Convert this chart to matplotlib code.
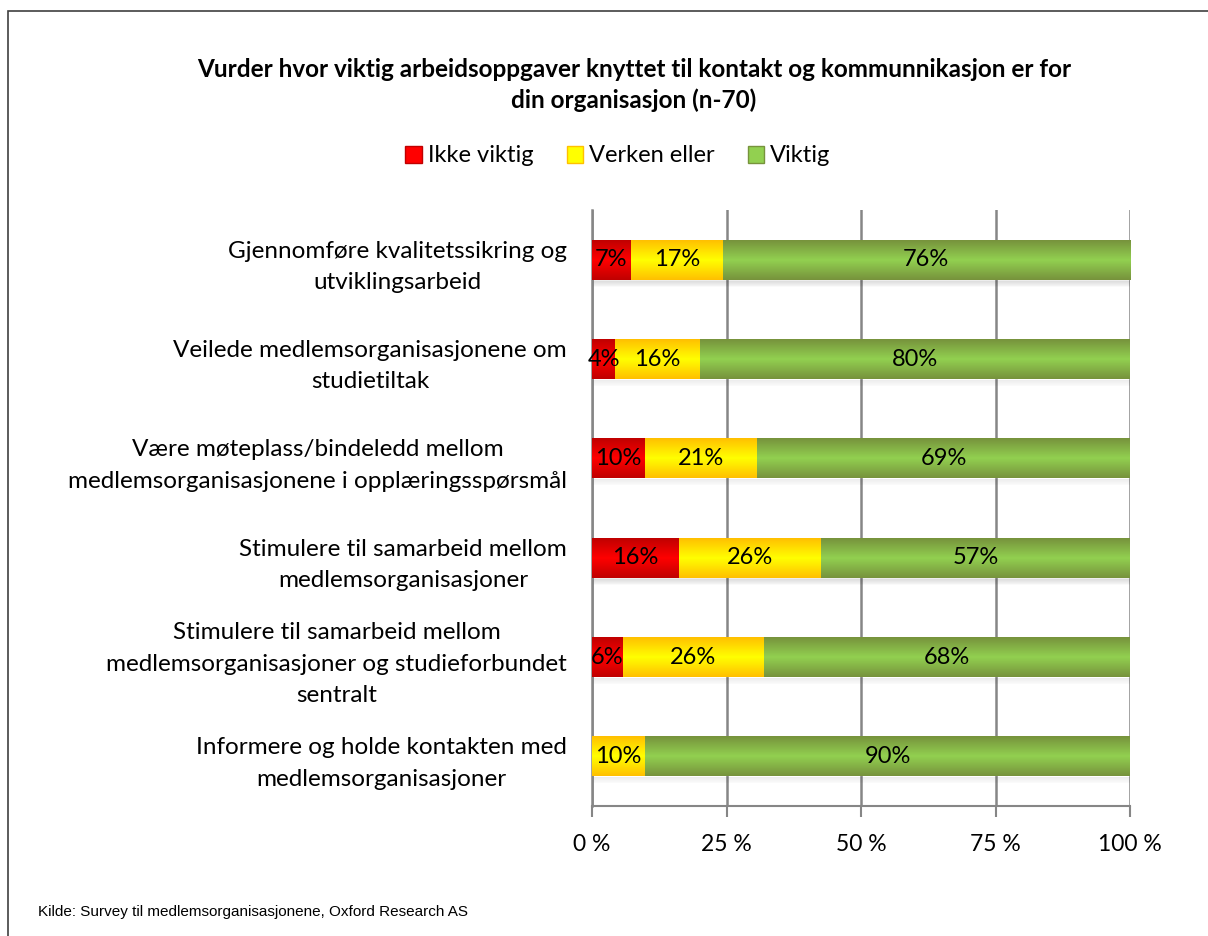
import numpy as np
import matplotlib.pyplot as plt
from matplotlib.colors import LinearSegmentedColormap
from matplotlib.patches import Rectangle

categories = [
    "Gjennomføre kvalitetssikring og\nutviklingsarbeid",
    "Veilede medlemsorganisasjonene om\nstudietiltak",
    "Være møteplass/bindeledd mellom\nmedlemsorganisasjonene i opplæringsspørsmål",
    "Stimulere til samarbeid mellom\nmedlemsorganisasjoner",
    "Stimulere til samarbeid mellom\nmedlemsorganisasjoner og studieforbundet\nsentralt",
    "Informere og holde kontakten med\nmedlemsorganisasjoner",
]
ikke_viktig = [7.2, 4.3, 9.9, 16.2, 5.7, 0.0]
verken_eller = [17.1, 15.8, 20.8, 26.4, 26.3, 9.9]
viktig = [75.7, 79.9, 69.3, 57.4, 68.0, 90.1]
series_names = ["Ikke viktig", "Verken eller", "Viktig"]
ticks = [0, 25, 50, 75, 100]
tick_labels = ["0 %", "25 %", "50 %", "75 %", "100 %"]

# (edge colour, centre colour) for the vertical gradient
shades = [("#c00000", "#ff0000"), ("#ffc000", "#ffff00"), ("#77933c", "#92d050")]

FONT = "Lato"


def gradient_fill(ax, bars, edge, centre):
    cmap = LinearSegmentedColormap.from_list("g", [edge, centre, edge])
    grad = np.linspace(0, 1, 64).reshape(-1, 1)
    for b in bars:
        x, y = b.get_x(), b.get_y()
        w, h = b.get_width(), b.get_height()
        if w <= 0:
            continue
        im = ax.imshow(grad, cmap=cmap, aspect="auto", extent=(x, x + w, y + h, y),
                       zorder=3, interpolation="bilinear")
        im.set_clip_path(b)
        b.set_facecolor("none")


def main():
    fig = plt.figure(figsize=(12.08, 9.36), dpi=100)
    fig.patches.append(Rectangle((8 / 1208, -0.01), 1.0, 1 - 11 / 936 + 0.01,
                                 transform=fig.transFigure, fill=False,
                                 edgecolor="#404040", linewidth=1.2))

    ax = fig.add_axes([592 / 1208, 1 - 806 / 936, 538 / 1208, 596 / 936])
    y = np.arange(len(categories))
    height = 0.40

    data = [ikke_viktig, verken_eller, viktig]
    left = np.zeros(len(categories))
    total = np.sum(data, axis=0)

    # soft shadow under each bar
    for k in range(6):
        ax.barh(y + height / 2 + 0.015 + k * 0.01, total, height=0.014, left=0,
                color="#000000", alpha=0.07 - k * 0.01, zorder=2, linewidth=0)

    for vals, name, (edge, centre) in zip(data, series_names, shades):
        bars = ax.barh(y, vals, height=height, left=left, label=name,
                       color=centre, linewidth=0, zorder=3)
        gradient_fill(ax, bars, edge, centre)
        for b, v in zip(bars, vals):
            if v > 0:
                ax.text(b.get_x() + b.get_width() / 2, b.get_y() + b.get_height() / 2,
                        f"{round(v):.0f}%", ha="center", va="center",
                        fontsize=17, family=FONT, color="black", zorder=5)
        left = left + np.array(vals)

    ax.set_xlim(0, 100)
    ax.set_ylim(len(categories) - 0.5, -0.5)
    ax.set_xticks(ticks)
    ax.set_xticklabels(tick_labels, fontsize=16.5, family=FONT)
    ax.set_yticks(y)
    ax.set_yticklabels(categories, fontsize=17.5, family=FONT, ha="right",
                       multialignment="center", linespacing=1.6)
    ax.tick_params(axis="y", length=0, pad=18)
    ax.tick_params(axis="x", length=8, width=1.5, color="#868686", pad=12)
    ax.grid(axis="x", color="#868686", linewidth=1.8, zorder=1)
    ax.set_axisbelow(True)
    for s in ["top", "right"]:
        ax.spines[s].set_visible(False)
    ax.spines["left"].set_color("#868686")
    ax.spines["left"].set_linewidth(1.8)
    ax.spines["bottom"].set_color("#868686")
    ax.spines["bottom"].set_linewidth(1.5)

    handles = []
    for name, (edge, centre) in zip(series_names, shades):
        handles.append(Rectangle((0, 0), 1, 1, facecolor=centre, edgecolor=edge, linewidth=1))
    fig.legend(handles, series_names, loc="center", bbox_to_anchor=(618 / 1208, 1 - 156 / 936),
               ncol=3, frameon=False, prop={"family": FONT, "size": 17},
               handlelength=0.7, handleheight=0.7, handletextpad=0.25, columnspacing=1.4)

    fig.text(634 / 1208, 1 - 85 / 936,
             "Vurder hvor viktig arbeidsoppgaver knyttet til kontakt og kommunnikasjon er for\n"
             "din organisasjon (n-70)",
             ha="center", va="center", fontsize=17.5, fontweight="bold", family=FONT,
             linespacing=1.35)

    fig.text(38 / 1208, 1 - 912 / 936,
             "Kilde: Survey til medlemsorganisasjonene, Oxford Research AS",
             ha="left", va="center", fontsize=11, family="Liberation Sans")

    fig.savefig("out.png", dpi=100)


if __name__ == "__main__":
    main()
